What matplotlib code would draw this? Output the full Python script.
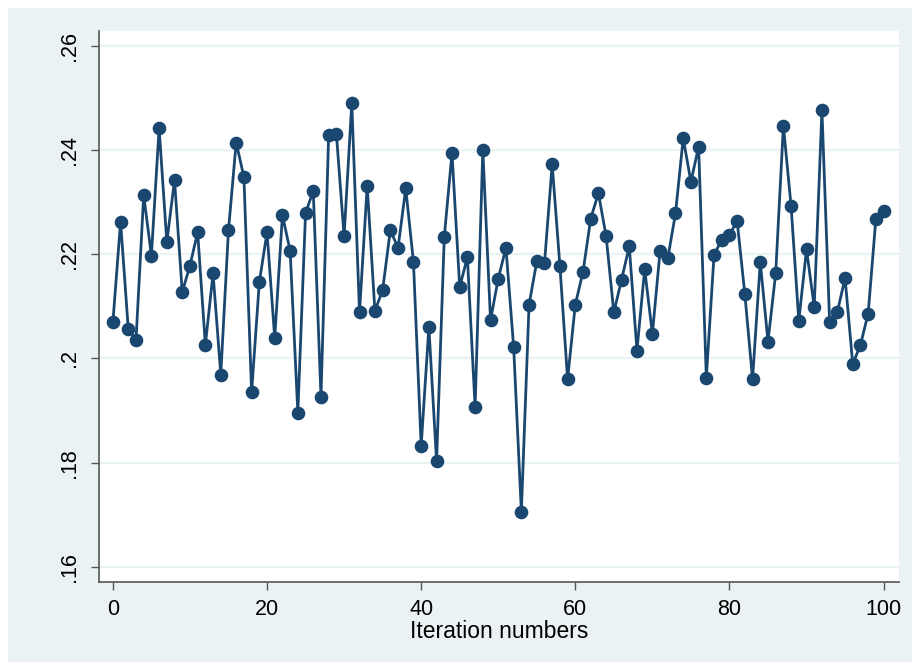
import matplotlib
matplotlib.use("Agg")
import matplotlib.pyplot as plt
from matplotlib.patches import Rectangle

# Sampled statistic at each iteration
iterations = list(range(101))
values = [
    0.2069, 0.2262, 0.2056, 0.2035, 0.2313, 0.2197, 0.2442, 0.2223, 0.2342, 0.2127,
    0.2178, 0.2242, 0.2026, 0.2163, 0.1969, 0.2246, 0.2414, 0.2348, 0.1935, 0.2146,
    0.2242, 0.2039, 0.2275, 0.2206, 0.1896, 0.2279, 0.2321, 0.1926, 0.2429, 0.2431,
    0.2234, 0.2490, 0.2088, 0.2331, 0.2091, 0.2131, 0.2246, 0.2212, 0.2326, 0.2185,
    0.1832, 0.2060, 0.1803, 0.2233, 0.2394, 0.2137, 0.2194, 0.1906, 0.2400, 0.2073,
    0.2153, 0.2212, 0.2022, 0.1706, 0.2103, 0.2186, 0.2182, 0.2372, 0.2178, 0.1960,
    0.2103, 0.2166, 0.2268, 0.2317, 0.2234, 0.2088, 0.2151, 0.2215, 0.2015, 0.2171,
    0.2047, 0.2206, 0.2192, 0.2278, 0.2422, 0.2339, 0.2406, 0.1963, 0.2198, 0.2228,
    0.2237, 0.2263, 0.2123, 0.1960, 0.2185, 0.2032, 0.2163, 0.2446, 0.2292, 0.2072,
    0.2209, 0.2099, 0.2476, 0.2069, 0.2089, 0.2154, 0.1989, 0.2026, 0.2086, 0.2268,
    0.2283,
]
x_ticks = [0, 20, 40, 60, 80, 100]
y_ticks = [0.16, 0.18, 0.20, 0.22, 0.24, 0.26]
y_tick_labels = [".16", ".18", ".2", ".22", ".24", ".26"]
x_label = "Iteration numbers"

W, H = 917, 670
navy = "#1A476F"
panel = "#EAF2F3"
axis_gray = "#555555"

plt.rcParams["font.family"] = ["Liberation Sans", "DejaVu Sans"]

fig = plt.figure(figsize=(W / 100, H / 100), dpi=100, facecolor="white")

# Light outer panel behind the plot region
fig.patches.append(Rectangle((8 / W, 1 - 662 / H), (912 - 8) / W, (662 - 8) / H,
                             transform=fig.transFigure, facecolor=panel,
                             edgecolor="none", zorder=-10))

left, right, top, bottom = 99, 899, 31, 582
ax = fig.add_axes([left / W, 1 - bottom / H, (right - left) / W, (bottom - top) / H])
ax.set_zorder(1)
ax.set_facecolor("white")

ax.plot(iterations, values, color=navy, linewidth=2.0, marker="o",
        markersize=8.8, markerfacecolor=navy, markeredgecolor=navy, zorder=3)

ax.set_xlim(-1.8, 102.0)
ax.set_ylim(0.1571, 0.2628)

ax.set_xticks(x_ticks)
ax.set_xticklabels([str(t) for t in x_ticks], fontsize=15.5)
ax.set_yticks(y_ticks)
ax.set_yticklabels(y_tick_labels, fontsize=15.5, rotation=90, va="center")

ax.grid(axis="y", color=panel, linewidth=1.6, zorder=1)
ax.set_axisbelow(True)

for side in ("top", "right"):
    ax.spines[side].set_visible(False)
for side in ("left", "bottom"):
    ax.spines[side].set_color(axis_gray)
    ax.spines[side].set_linewidth(1.2)

ax.tick_params(axis="both", direction="out", length=6, width=1.0,
               color=axis_gray, labelcolor="black")
ax.tick_params(axis="x", pad=6)
ax.tick_params(axis="y", pad=8)

ax.set_xlabel(x_label, fontsize=16.5, labelpad=0)

fig.savefig("out.png", dpi=100, facecolor="white")
